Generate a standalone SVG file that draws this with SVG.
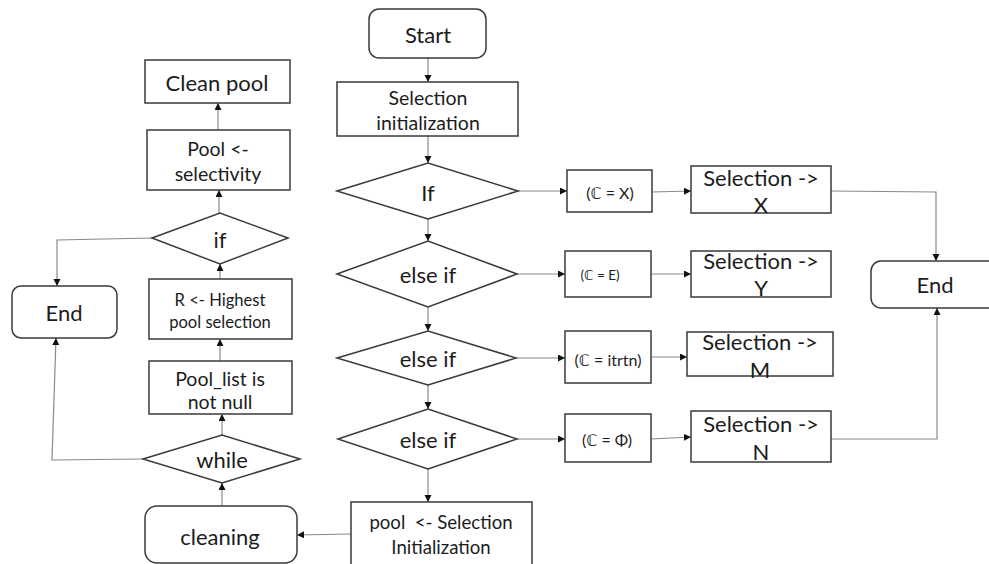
<svg xmlns="http://www.w3.org/2000/svg" width="989" height="564" viewBox="0 0 989 564">
  <style>
    .bg { fill: #ffffff; }
    .box { fill: #ffffff; stroke: #3a3a3a; stroke-width: 1.5; }
    .link { fill: none; stroke: #8a8a8a; stroke-width: 1.2; }
    text { font-family: Lato, "Open Sans", "DejaVu Sans", sans-serif; fill: #1c1c1c; text-anchor: middle; dominant-baseline: central; }
    .big { font-size: 22px; }
    .mid { font-size: 19.5px; }
    .pool { font-size: 18.6px; }
    .hp { font-size: 16.6px; }
    .cond { font-size: 16px; }
    .condS { font-size: 13.5px; }
  </style>
  <defs>
    <marker id="arrow" markerUnits="userSpaceOnUse" markerWidth="8" markerHeight="8" refX="7" refY="3.5" orient="auto">
      <path d="M0,0 L7,3.5 L0,7 z" fill="#111111"/>
    </marker>
  </defs>

  <rect class="bg" x="0" y="0" width="989" height="564"/>

  <!-- connectors -->
  <g id="connectors">
    <path class="link" d="M428,58 L428,82" marker-end="url(#arrow)"/>
    <path class="link" d="M428,136 L428,163" marker-end="url(#arrow)"/>
    <path class="link" d="M428,219 L428,241" marker-end="url(#arrow)"/>
    <path class="link" d="M428,307 L428,331" marker-end="url(#arrow)"/>
    <path class="link" d="M428,385 L428,409" marker-end="url(#arrow)"/>
    <path class="link" d="M428,469 L428,502" marker-end="url(#arrow)"/>
    <path class="link" d="M518,191 L567,191" marker-end="url(#arrow)"/>
    <path class="link" d="M517,274 L565,274" marker-end="url(#arrow)"/>
    <path class="link" d="M516,358 L565,358" marker-end="url(#arrow)"/>
    <path class="link" d="M517,439 L565,439" marker-end="url(#arrow)"/>
    <path class="link" d="M652,192 L691,191" marker-end="url(#arrow)"/>
    <path class="link" d="M651,274 L691,274" marker-end="url(#arrow)"/>
    <path class="link" d="M651,357 L687,357" marker-end="url(#arrow)"/>
    <path class="link" d="M651,439 L691,437" marker-end="url(#arrow)"/>
    <path class="link" d="M831,191 L936,192 L936,261" marker-end="url(#arrow)"/>
    <path class="link" d="M831,439 L937,439 L937,308" marker-end="url(#arrow)"/>
    <path class="link" d="M351,534 L297,535" marker-end="url(#arrow)"/>
    <path class="link" d="M222,506 L222,483" marker-end="url(#arrow)"/>
    <path class="link" d="M222,435 L222,414" marker-end="url(#arrow)"/>
    <path class="link" d="M220,361 L220,339" marker-end="url(#arrow)"/>
    <path class="link" d="M220,279 L220,264" marker-end="url(#arrow)"/>
    <path class="link" d="M219,213 L219,190" marker-end="url(#arrow)"/>
    <path class="link" d="M218,130 L218,103" marker-end="url(#arrow)"/>
    <path class="link" d="M152,238 L57,240 L57,286" marker-end="url(#arrow)"/>
    <path class="link" d="M143,459 L52,460 L56,338" marker-end="url(#arrow)"/>
  </g>

  <!-- main selection column -->
  <g id="start">
    <rect class="box" x="369" y="9" width="117" height="49" rx="10"/>
    <text class="big" x="428" y="34">Start</text>
  </g>
  <g id="selection-init">
    <rect class="box" x="337" y="82" width="181" height="54"/>
    <text class="mid" x="428" y="97">Selection</text>
    <text class="mid" x="428" y="122">initialization</text>
  </g>
  <g id="cond-if">
    <polygon class="box" points="337,191 428,163 518,191 428,219"/>
    <text class="big" x="428" y="192">If</text>
  </g>
  <g id="cond-elseif-1">
    <polygon class="box" points="337,274 428,241 517,274 428,307"/>
    <text class="big" x="428" y="274">else if</text>
  </g>
  <g id="cond-elseif-2">
    <polygon class="box" points="337,358 428,331 516,358 428,385"/>
    <text class="big" x="428" y="358">else if</text>
  </g>
  <g id="cond-elseif-3">
    <polygon class="box" points="338,439 428,409 517,439 428,469"/>
    <text class="big" x="428" y="439">else if</text>
  </g>
  <g id="pool-init">
    <rect class="box" x="351" y="502" width="181" height="72"/>
    <text class="pool" x="441" y="522" xml:space="preserve">pool  &lt;- Selection</text>
    <text class="pool" x="441" y="547">Initialization</text>
  </g>

  <!-- condition boxes -->
  <g id="case-x">
    <rect class="box" x="567" y="170" width="85" height="42"/>
    <text class="cond" x="610" y="192">(ℂ = X)</text>
  </g>
  <g id="case-e">
    <rect class="box" x="565" y="251" width="86" height="46"/>
    <text class="condS" x="600" y="275">(ℂ = E)</text>
  </g>
  <g id="case-itrtn">
    <rect class="box" x="565" y="331" width="86" height="52"/>
    <text class="cond" x="608" y="359">(ℂ = itrtn)</text>
  </g>
  <g id="case-phi">
    <rect class="box" x="565" y="414" width="86" height="48"/>
    <text class="cond" x="607" y="439">(ℂ = Φ)</text>
  </g>

  <!-- selection results -->
  <g id="sel-x">
    <rect class="box" x="691" y="166" width="140" height="47"/>
    <text class="big" x="761" y="177">Selection -&gt;</text>
    <text class="big" x="761" y="204">X</text>
  </g>
  <g id="sel-y">
    <rect class="box" x="691" y="251" width="140" height="46"/>
    <text class="big" x="761" y="260">Selection -&gt;</text>
    <text class="big" x="761" y="287">Y</text>
  </g>
  <g id="sel-m">
    <rect class="box" x="687" y="332" width="146" height="44"/>
    <text class="big" x="760" y="341">Selection -&gt;</text>
    <text class="big" x="760" y="369">M</text>
  </g>
  <g id="sel-n">
    <rect class="box" x="691" y="411" width="140" height="51"/>
    <text class="big" x="761" y="423">Selection -&gt;</text>
    <text class="big" x="761" y="451">N</text>
  </g>
  <g id="end-right">
    <rect class="box" x="871" y="261" width="130" height="47" rx="10"/>
    <text class="big" x="935" y="284">End</text>
  </g>

  <!-- cleaning loop column -->
  <g id="clean-pool">
    <rect class="box" x="145" y="60" width="145" height="43"/>
    <text class="big" x="217" y="82">Clean pool</text>
  </g>
  <g id="pool-selectivity">
    <rect class="box" x="147" y="130" width="143" height="60"/>
    <text class="mid" x="218" y="148">Pool &lt;-</text>
    <text class="mid" x="218" y="173">selectivity</text>
  </g>
  <g id="cond-if-small">
    <polygon class="box" points="152,238 220,213 288,238 220,264"/>
    <text class="big" x="220" y="239">if</text>
  </g>
  <g id="end-left">
    <rect class="box" x="12" y="286" width="105" height="52" rx="9"/>
    <text class="big" x="64" y="312">End</text>
  </g>
  <g id="highest-pool">
    <rect class="box" x="149" y="279" width="143" height="60"/>
    <text class="hp" x="220" y="300">R &lt;- Highest</text>
    <text class="hp" x="220" y="322">pool selection</text>
  </g>
  <g id="pool-list">
    <rect class="box" x="149" y="361" width="143" height="53"/>
    <text class="mid" x="220" y="378">Pool_list is</text>
    <text class="mid" x="220" y="401">not null</text>
  </g>
  <g id="cond-while">
    <polygon class="box" points="143,459 222,435 300,459 222,483"/>
    <text class="big" x="222" y="459">while</text>
  </g>
  <g id="cleaning">
    <rect class="box" x="145" y="506" width="152" height="57" rx="12"/>
    <text class="big" x="220" y="536">cleaning</text>
  </g>
</svg>
